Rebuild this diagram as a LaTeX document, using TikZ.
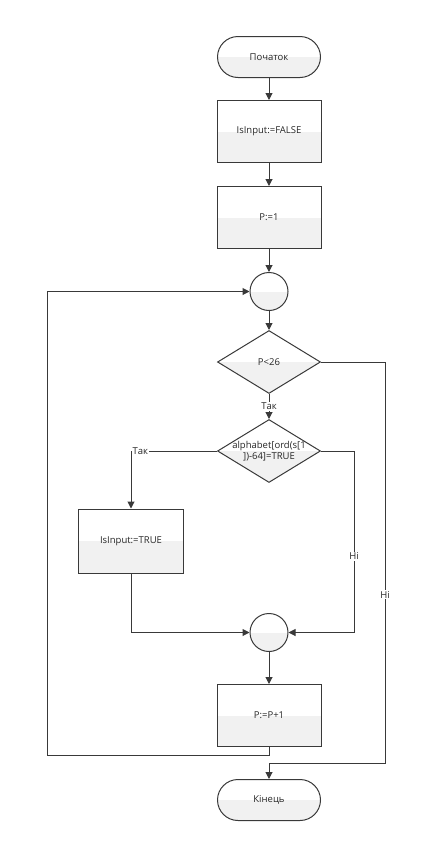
\documentclass[tikz,border=0pt]{standalone}
\usepackage{fontspec}
\setmainfont{Open Sans}
\usepackage{tikz}
\usetikzlibrary{positioning,shapes.geometric,shapes.misc,arrows.meta}

\tikzset{
  halffill/.style={path picture={\fill[gray!11] (path picture bounding box.west) rectangle (path picture bounding box.south east);}},
  block/.style={draw=gray!45!black, line width=1pt, halffill, text=black!85, font=\fontsize{9.5}{11}\selectfont, inner sep=0pt},
  terminal/.style={block, rounded rectangle, minimum width=103pt, minimum height=41pt},
  process/.style={block, rectangle, minimum width=104pt, minimum height=62pt},
  decision/.style={block, diamond, minimum width=103pt, minimum height=63pt},
  joint/.style={block, circle, minimum size=38pt},
  flow/.style={draw=gray!45!black, line width=1pt, -{Triangle[length=7pt,width=7pt]}},
  tag/.style={fill=white, inner sep=1pt, text=black!85, font=\fontsize{9.5}{11}\selectfont}
}

\begin{document}
\begin{tikzpicture}
  \useasboundingbox (0,0) rectangle (429pt,-846pt);

  \node[terminal] (start) at (269pt,-57pt) {Початок};
  \node[process, below=22pt of start] (noinput) {IsInput:=FALSE};
  \node[process, below=23pt of noinput] (pone) {P:=1};
  \node[joint, below=23pt of pone] (loop) {};
  \node[decision, below=19pt of loop] (pcheck) {};
  \node[decision, below=25pt of pcheck] (letter) {};
  \node[font=\fontsize{9.5}{11}\selectfont, text=black!85] (pchecktext) at (pcheck) {P<26};
  \node[font=\fontsize{9.5}{11}\selectfont, text=black!85, align=center] (lettertext) at (letter) {alphabet[ord(s[1\\])-64]=TRUE};
  \node[process, minimum width=105pt, minimum height=64pt] (yesinput) at (131pt,-541pt) {IsInput:=TRUE};
  \node[joint, below=130pt of letter] (merge) {};
  \node[process, below=32pt of merge] (pnext) {P:=P+1};
  \node[terminal, below=32pt of pnext] (stop) {Кінець};

  % main column
  \draw[flow] (start) -- (noinput);
  \draw[flow] (noinput) -- (pone);
  \draw[flow] (pone) -- (loop);
  \draw[flow] (loop) -- (pcheck);
  \draw[flow] (pcheck) -- node[tag] {Так} (letter);
  \draw[flow] (merge) -- (pnext);

  % branches of the letter check
  \draw[flow] (letter.west) -- (yesinput.north |- letter.west) node[tag, anchor=west] {Так} -- (yesinput.north);
  \draw[flow] (letter.east) -- ++(33pt,0) |- node[tag, pos=0.29] {Ні} (merge.east);
  \draw[flow] (yesinput.south) |- (merge.west);

  % back to the loop and out
  \draw[flow] (pnext.south) -- ++(0,-8pt) -| ([xshift=-202pt]loop.west) -- (loop.west);
  \draw[flow] (pcheck.east) -- ++(64pt,0) |- node[tag, pos=0.29] {Ні} ([yshift=16pt]stop.north) -- (stop.north);
\end{tikzpicture}
\end{document}
